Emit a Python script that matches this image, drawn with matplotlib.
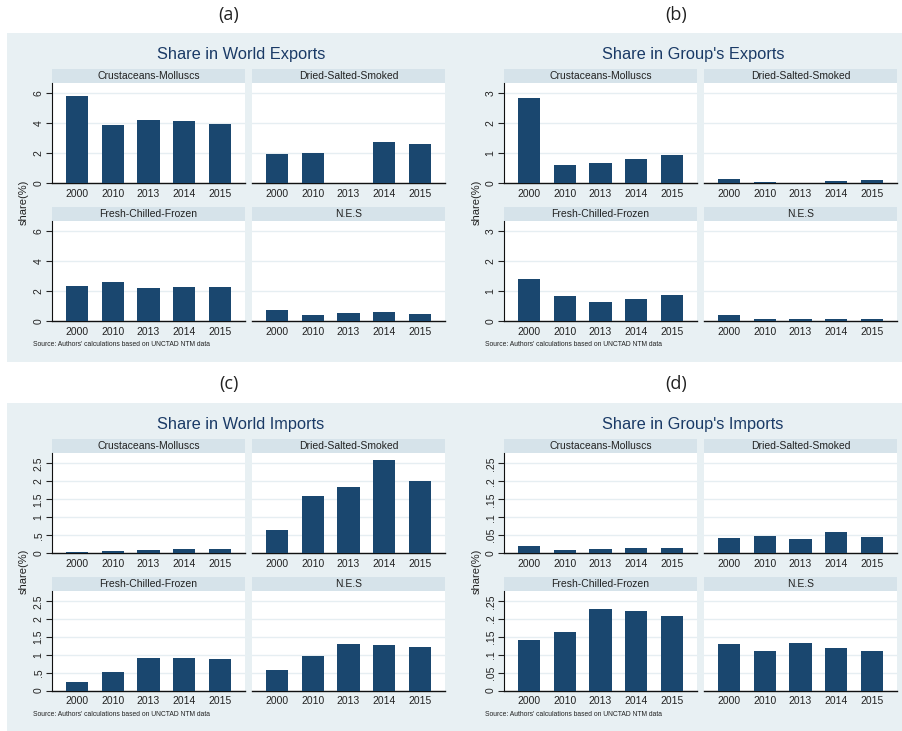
import numpy as np
import matplotlib
matplotlib.use("Agg")
import matplotlib.pyplot as plt
from matplotlib.patches import Rectangle
from matplotlib.ticker import FuncFormatter

W, H = 902, 731

years = ["2000", "2010", "2013", "2014", "2015"]
categories = ["Crustaceans-Molluscs", "Dried-Salted-Smoked",
              "Fresh-Chilled-Frozen", "N.E.S"]

# one row per category, same order as `categories`
world_exports = [
    [5.80, 3.88, 4.24, 4.16, 3.94],
    [1.94, 2.00, np.nan, 2.73, 2.62],
    [2.33, 2.63, 2.19, 2.30, 2.30],
    [0.71, 0.43, 0.51, 0.57, 0.44],
]
group_exports = [
    [2.83, 0.61, 0.69, 0.81, 0.93],
    [0.14, 0.055, np.nan, 0.08, 0.10],
    [1.41, 0.83, 0.64, 0.73, 0.86],
    [0.19, 0.06, 0.07, 0.08, 0.07],
]
world_imports = [
    [0.05, 0.06, 0.10, 0.11, 0.11],
    [0.65, 1.60, 1.84, 2.59, 2.00],
    [0.24, 0.52, 0.90, 0.91, 0.87],
    [0.57, 0.98, 1.31, 1.27, 1.23],
]
group_imports = [
    [0.020, 0.009, 0.012, 0.016, 0.015],
    [0.042, 0.048, 0.041, 0.058, 0.044],
    [0.141, 0.164, 0.227, 0.222, 0.208],
    [0.130, 0.111, 0.133, 0.119, 0.111],
]

world_exp_ticks = [0, 2, 4, 6]
group_exp_ticks = [0, 1, 2, 3]
world_imp_ticks = [0, 0.5, 1, 1.5, 2, 2.5]
group_imp_ticks = [0, 0.05, 0.1, 0.15, 0.2, 0.25]

BG = "#e8f0f3"
STRIP = "#d6e3ea"
BAR = "#1a476f"
GRID = "#e6eef2"
TITLE_C = "#1a3a66"
FONT = "Liberation Sans"


def stata_num(v, pos=None):
    # Stata-style labels: drop the leading zero (".5", ".05")
    s = f"{v:g}"
    if s.startswith("0."):
        s = s[1:]
    return s


def frac(x0, y0, x1, y1):
    return [x0 / W, 1 - y1 / H, (x1 - x0) / W, (y1 - y0) / H]


fig = plt.figure(figsize=(W / 100, H / 100), dpi=100)
fig.patch.set_facecolor("white")


def draw_panel(box, letter, letter_y, title, data, ticks, cols_x, rows_y,
               title_x, ylab_x):
    bx0, by0, bx1, by1 = box
    fig.patches.append(Rectangle((bx0 / W, 1 - by1 / H), (bx1 - bx0) / W,
                                 (by1 - by0) / H, transform=fig.transFigure,
                                 facecolor=BG, edgecolor="none", zorder=-10))
    fig.text((bx0 + bx1) / 2 / W, 1 - letter_y / H, letter, ha="center",
             va="center", fontsize=13, family="Open Sans", color="#222222")
    fig.text(title_x / W, 1 - (by0 + 21) / H, title, ha="center",
             va="center", fontsize=11.8, family=FONT, color=TITLE_C)
    ymax = ticks[-1] * 1.115
    x = np.arange(len(years))
    for i, cat in enumerate(categories):
        r, c = divmod(i, 2)
        sx0, sx1 = cols_x[c]
        st0, st1, ax_bottom = rows_y[r]
        fig.patches.append(Rectangle((sx0 / W, 1 - st1 / H), (sx1 - sx0) / W,
                                     (st1 - st0) / H, transform=fig.transFigure,
                                     facecolor=STRIP, edgecolor="none", zorder=-5))
        fig.text((sx0 + sx1) / 2 / W, 1 - (st0 + st1) / 2 / H, cat,
                 ha="center", va="center", fontsize=7.5, family=FONT,
                 color="#222222")
        ax = fig.add_axes(frac(sx0, st1, sx1, ax_bottom))
        ax.set_facecolor("white")
        ax.bar(x, data[i], width=0.62, color=BAR, zorder=3)
        ax.set_xlim(-0.7, len(years) - 0.3)
        ax.set_ylim(0, ymax)
        ax.set_yticks(ticks)
        ax.yaxis.grid(True, color=GRID, linewidth=1.0, zorder=0)
        ax.set_axisbelow(True)
        ax.set_xticks(x)
        ax.set_xticklabels(years, fontsize=7.5, family=FONT, color="#222222")
        ax.tick_params(axis="x", length=0, pad=4)
        for s in ("top", "right"):
            ax.spines[s].set_visible(False)
        ax.spines["bottom"].set_color("#111111")
        ax.spines["bottom"].set_linewidth(1.0)
        if c == 0:
            ax.spines["left"].set_color("#111111")
            ax.spines["left"].set_linewidth(0.8)
            ax.yaxis.set_major_formatter(FuncFormatter(stata_num))
            ax.tick_params(axis="y", length=4, width=0.8, pad=2,
                           labelsize=7.5, colors="#222222")
            for lab in ax.get_yticklabels():
                lab.set_rotation(90)
                lab.set_va("center")
                lab.set_family(FONT)
        else:
            ax.spines["left"].set_visible(False)
            ax.tick_params(axis="y", length=0, labelleft=False)
    mid_y = (rows_y[0][1] + rows_y[1][2]) / 2
    fig.text(ylab_x / W, 1 - mid_y / H, "share(%)", rotation=90,
             ha="center", va="center", fontsize=8, family=FONT,
             color="#222222")
    fig.text((cols_x[0][0] - 19) / W, 1 - (by1 - 17) / H,
             "Source: Authors' calculations based on UNCTAD NTM data",
             ha="left", va="center", fontsize=4.9, family=FONT,
             color="#222222")


left_cols = [(52, 245), (252, 445)]
right_cols = [(504, 697), (704, 897)]
top_rows = [(69, 83, 183.3), (207, 221, 321)]
bottom_rows = [(439, 453, 553.3), (577, 591, 690.5)]

draw_panel((7, 33, 450, 362), "(a)", 15, "Share in World Exports",
           world_exports, world_exp_ticks, left_cols, top_rows, 241, 24)
draw_panel((450, 33, 902, 362), "(b)", 15, "Share in Group's Exports",
           group_exports, group_exp_ticks, right_cols, top_rows, 693, 477)
draw_panel((7, 403, 450, 731), "(c)", 384, "Share in World Imports",
           world_imports, world_imp_ticks, left_cols, bottom_rows, 241, 24)
draw_panel((450, 403, 902, 731), "(d)", 384, "Share in Group's Imports",
           group_imports, group_imp_ticks, right_cols, bottom_rows, 693, 477)

fig.savefig("out.png", dpi=100, facecolor="white")
